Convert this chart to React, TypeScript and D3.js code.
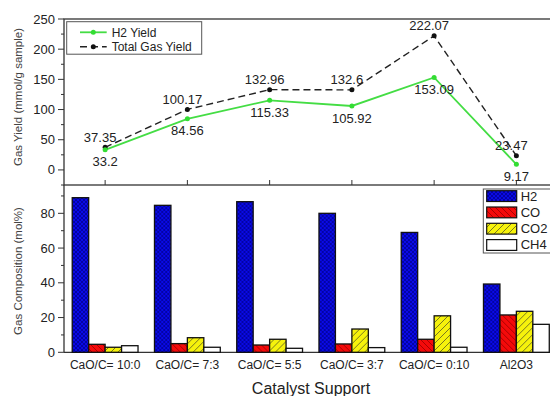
import React from 'react';
import * as d3 from 'd3';

// catalyst supports along the shared x axis
const categories = ['CaO/C= 10:0', 'CaO/C= 7:3', 'CaO/C= 5:5', 'CaO/C= 3:7', 'CaO/C= 0:10', 'Al2O3'];

// top panel: gas yield (mmol/g sample)
const h2Yield = [33.2, 84.56, 115.33, 105.92, 153.09, 9.17];
const totalYield = [37.35, 100.17, 132.96, 132.6, 222.07, 23.47];
const yieldTicks = [0, 50, 100, 150, 200, 250];

// bottom panel: gas composition (mol%)
const gases = ['H2', 'CO', 'CO2', 'CH4'];
const h2Comp = [89, 84.6, 86.7, 80, 69, 39.3];
const coComp = [4.6, 5, 4.2, 4.8, 7.5, 21.5];
const co2Comp = [2.9, 8.4, 7.5, 13.4, 21, 23.6];
const ch4Comp = [3.8, 2.9, 2.3, 2.7, 2.9, 16.1];
const compTicks = [0, 20, 40, 60, 80];

const compBySeries = [h2Comp, coComp, co2Comp, ch4Comp];
const fills = ['url(#patH2)', 'url(#patCO)', 'url(#patCO2)', '#ffffff'];

const font = 'Arial, "Liberation Sans", sans-serif';

export default function App() {
    const width = 550, height = 396;
    const left = 64, right = 557.5;
    const topY0 = 19, split = 185, botY1 = 352.3;

    const x = d3.scaleBand().domain(categories).range([left, right]).paddingInner(0).paddingOuter(0);
    const bw = x.bandwidth();
    const xc = (c) => (x(c) as number) + bw / 2;
    const xs = d3.scaleBand().domain(gases).range([bw * 0.1, bw * 0.9]);

    const yTop = d3.scaleLinear().domain([-25, 250]).range([split, topY0]);
    const yBot = d3.scaleLinear().domain([0, 96.3]).range([botY1, split]);

    const lineGen = (vals) => d3.line<number>().x((d, i) => xc(categories[i])).y((d) => yTop(d))(vals) as string;

    const minorTop = d3.range(-25, 251, 25).filter((v) => v % 50 !== 0);
    const minorBot = d3.range(10, 96, 20);

    return (
        <svg width={width} height={height} style={{ position: 'absolute', left: 0, top: 0 }}>
            <defs>
                <pattern id="patH2" patternUnits="userSpaceOnUse" width="4" height="4">
                    <rect width="4" height="4" fill="#0a0ae6" />
                    <path d="M0,0 L4,4 M4,0 L0,4" stroke="#00008a" strokeWidth="0.7" />
                </pattern>
                <pattern id="patCO" patternUnits="userSpaceOnUse" width="6" height="6">
                    <rect width="6" height="6" fill="#f40a0a" />
                    <path d="M0,0 L6,6 M-3,3 L3,9 M3,-3 L9,3" stroke="#a00000" strokeWidth="0.9" />
                </pattern>
                <pattern id="patCO2" patternUnits="userSpaceOnUse" width="7" height="7">
                    <rect width="7" height="7" fill="#f6f20c" />
                    <path d="M0,7 L7,0 M-3.5,3.5 L3.5,-3.5 M3.5,10.5 L10.5,3.5" stroke="#6b6b20" strokeWidth="0.9" />
                </pattern>
            </defs>
            <rect width={width} height={height} fill="#fff" />

            {/* top panel frame */}
            <rect x={left} y={topY0} width={right - left} height={split - topY0} fill="none" stroke="#333" strokeWidth={1.3} />
            {/* bottom panel frame */}
            <line x1={left} x2={left} y1={split} y2={botY1} stroke="#333" strokeWidth={1.3} />
            <line x1={left} x2={right} y1={botY1} y2={botY1} stroke="#333" strokeWidth={1.3} />
            <line x1={right} x2={right} y1={split} y2={botY1} stroke="#333" strokeWidth={1.3} />

            {/* top y ticks */}
            {yieldTicks.map((t) => (
                <g key={'yt' + t}>
                    <line x1={left - 6} x2={left} y1={yTop(t)} y2={yTop(t)} stroke="#333" />
                    <text x={left - 9} y={yTop(t)} dy="0.35em" textAnchor="end" fontSize={13} fontFamily={font} fill="#222">{t}</text>
                </g>
            ))}
            {minorTop.map((t) => (
                <line key={'ym' + t} x1={left - 3} x2={left} y1={yTop(t)} y2={yTop(t)} stroke="#333" />
            ))}
            {/* top x ticks (inward) */}
            {categories.map((c) => (
                <line key={'xt' + c} x1={xc(c)} x2={xc(c)} y1={split} y2={split - 5} stroke="#333" />
            ))}

            {/* bottom y ticks */}
            {compTicks.map((t) => (
                <g key={'bt' + t}>
                    <line x1={left - 6} x2={left} y1={yBot(t)} y2={yBot(t)} stroke="#333" />
                    <text x={left - 9} y={yBot(t)} dy="0.35em" textAnchor="end" fontSize={13} fontFamily={font} fill="#222">{t}</text>
                </g>
            ))}
            {minorBot.map((t) => (
                <line key={'bm' + t} x1={left - 3} x2={left} y1={yBot(t)} y2={yBot(t)} stroke="#333" />
            ))}

            {/* lines */}
            <path d={lineGen(totalYield)} fill="none" stroke="#222" strokeWidth={1.4} strokeDasharray="7,4" />
            <path d={lineGen(h2Yield)} fill="none" stroke="#44dd44" strokeWidth={1.8} />
            {totalYield.map((v, i) => (
                <circle key={'tp' + i} cx={xc(categories[i])} cy={yTop(v)} r={2.5} fill="#111" />
            ))}
            {h2Yield.map((v, i) => (
                <circle key={'hp' + i} cx={xc(categories[i])} cy={yTop(v)} r={2.5} fill="#33dd33" />
            ))}
            {totalYield.map((v, i) => (
                <text key={'tl' + i} x={xc(categories[i]) - 5} y={yTop(v) - 10} dy="0.35em" textAnchor="middle" fontSize={13} fontFamily={font} fill="#222">{v}</text>
            ))}
            {h2Yield.map((v, i) => (
                <text key={'hl' + i} x={xc(categories[i])} y={yTop(v) + 12} dy="0.35em" textAnchor="middle" fontSize={13} fontFamily={font} fill="#222">{v}</text>
            ))}

            {/* top legend */}
            <rect x={66.7} y={21.7} width={135} height={32.5} fill="#fff" stroke="#555" strokeWidth={1} />
            <line x1={80} x2={106.7} y1={32.3} y2={32.3} stroke="#44dd44" strokeWidth={1.8} />
            <circle cx={93.3} cy={32.3} r={2.5} fill="#33dd33" />
            <text x={111.7} y={32.3} dy="0.35em" fontSize={12} fontFamily={font} fill="#222">H2 Yield</text>
            <line x1={80} x2={106.7} y1={46.7} y2={46.7} stroke="#222" strokeWidth={1.4} strokeDasharray="7,4" />
            <circle cx={93.3} cy={46.7} r={2.5} fill="#111" />
            <text x={111.7} y={46.7} dy="0.35em" fontSize={12} fontFamily={font} fill="#222">Total Gas Yield</text>

            {/* bars */}
            {categories.map((c, ci) => (
                <g key={'g' + c} transform={`translate(${x(c)},0)`}>
                    {gases.map((g, gi) => {
                        const v = compBySeries[gi][ci];
                        return (
                            <rect key={g} x={xs(g)} y={yBot(v)} width={xs.bandwidth()} height={botY1 - yBot(v)}
                                fill={fills[gi]} stroke="#111" strokeWidth={1.3} />
                        );
                    })}
                </g>
            ))}

            {/* category labels */}
            {categories.map((c) => (
                <text key={'cl' + c} x={xc(c)} y={365} dy="0.35em" textAnchor="middle" fontSize={12} fontFamily={font} fill="#222">{c}</text>
            ))}

            {/* bottom legend */}
            <rect x={483.3} y={189} width={80} height={64} fill="#fff" stroke="#555" strokeWidth={1} />
            {gases.map((g, gi) => (
                <g key={'lg' + g}>
                    <rect x={486.7} y={190.7 + gi * 16.3} width={30} height={10.8} fill={fills[gi]} stroke="#111" strokeWidth={1.2} />
                    <text x={520.7} y={196 + gi * 16.3} dy="0.35em" fontSize={13} fontFamily={font} fill="#222">{g}</text>
                </g>
            ))}

            {/* axis titles */}
            <text transform="translate(18,97) rotate(-90)" textAnchor="middle" dy="0.35em" fontSize={11.5} fontFamily={font} fill="#444">Gas Yield (mmol/g sample)</text>
            <text transform="translate(18,271) rotate(-90)" textAnchor="middle" dy="0.35em" fontSize={11.5} fontFamily={font} fill="#444">Gas Composition (mol%)</text>
            <text x={311} y={388} dy="0.35em" textAnchor="middle" fontSize={16} fontFamily={font} fill="#222">Catalyst Support</text>
        </svg>
    );
}
